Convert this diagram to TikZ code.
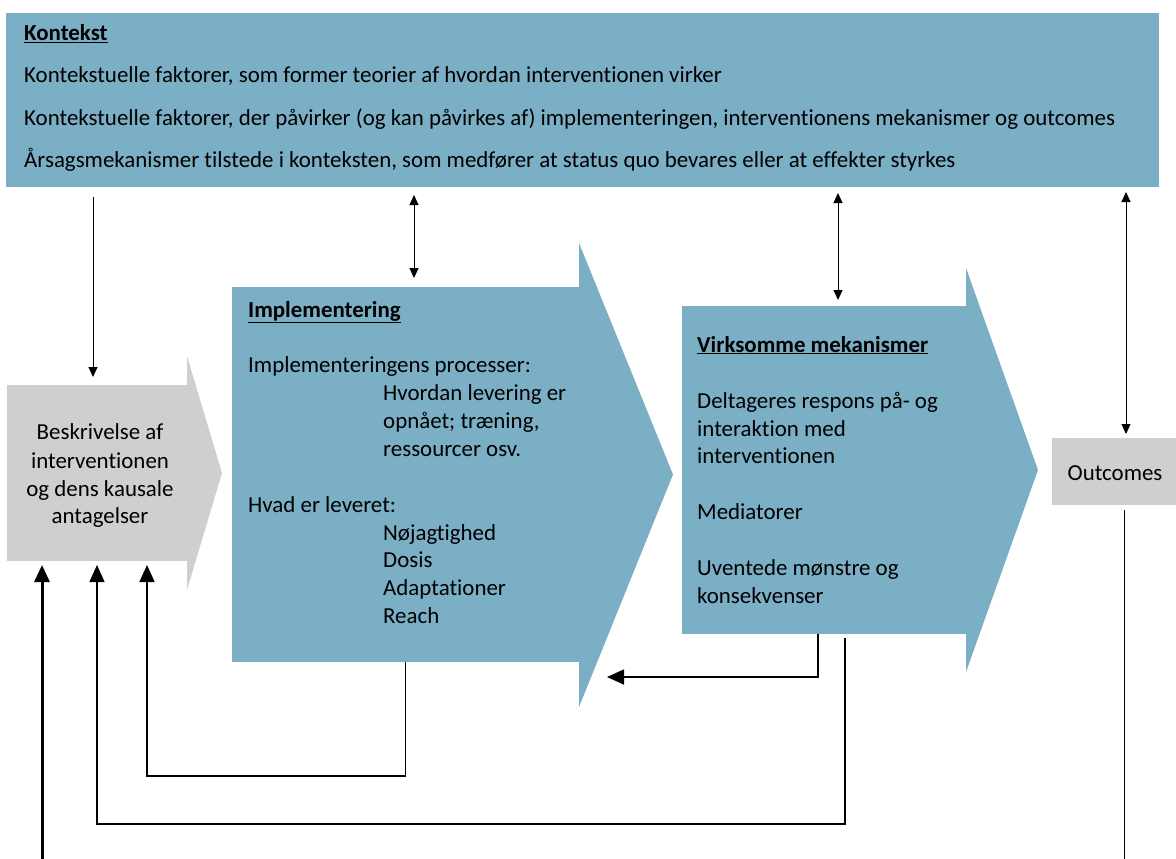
\documentclass[tikz,border=0pt]{standalone}
\usepackage{fontspec}
\setmainfont[Ligatures={NoCommon}]{Carlito}
\usetikzlibrary{arrows.meta,positioning}
\definecolor{kontekstblaa}{HTML}{7BAFC5}
\definecolor{beskgraa}{HTML}{D0CECF}

\begin{document}
\begin{tikzpicture}[x=1pt, y=-1pt,
    boks/.style={rectangle, fill=kontekstblaa, inner sep=0pt, outer sep=0pt},
    graaboks/.style={rectangle, fill=beskgraa, inner sep=0pt, outer sep=0pt},
    tekst/.style={font=\fontsize{22.9}{28}\selectfont, inner sep=0pt},
    pil/.style={-{Triangle[width=9pt,length=10pt]}, line width=1pt},
    dobbeltpil/.style={{Triangle[width=9pt,length=10pt]}-{Triangle[width=9pt,length=10pt]}, line width=1pt},
    feedback/.style={-{Triangle[width=15pt,length=17pt]}, line width=1.6pt}
]
\useasboundingbox (0,0) rectangle (1176,859);

% Kontekst
\node[boks, minimum width=1153pt, minimum height=174pt] (kontekst) at (582.5,100) {};
\node[tekst, anchor=base west] (ktitel) at (24,41) {\underline{\textbf{Kontekst}}};
\foreach \yy/\linje [count=\i] in {
    83/{Kontekstuelle faktorer, som former teorier af hvordan interventionen virker},
    125/{Kontekstuelle faktorer, der påvirker (og kan påvirkes af) implementeringen, interventionens mekanismer og outcomes},
    167/{Årsagsmekanismer tilstede i konteksten, som medfører at status quo bevares eller at effekter styrkes}} {
    \node[tekst, anchor=base west] (k\i) at (24,\yy) {\linje};
}

% Beskrivelse
\node[graaboks, minimum width=180pt, minimum height=176pt] (besk) at (97,473) {};
\fill[beskgraa] ([yshift=29pt]besk.north east) -- ([xshift=35pt]besk.east) -- ([yshift=-29pt]besk.south east) -- cycle;
\foreach \yy/\linje [count=\i] in {439/Beskrivelse af, 468/interventionen, 496/og dens kausale, 523/antagelser} {
    \node[tekst, anchor=base] (b\i) at (100,\yy) {\linje};
}

% Implementering
\node[boks, minimum width=347pt, minimum height=375pt] (impl) at (405.5,474.5) {};
\fill[kontekstblaa] ([yshift=44pt]impl.north east) -- ([xshift=94pt]impl.east) -- ([yshift=-45pt]impl.south east) -- cycle;
\node[tekst, anchor=base west] (ititel) at (248,317) {\underline{\textbf{Implementering}}};
\foreach \yy/\linje [count=\i] in {372/Implementeringens processer:, 512/Hvad er leveret:} {
    \node[tekst, anchor=base west] (iv\i) at (248,\yy) {\linje};
}
\foreach \yy/\linje [count=\i] in {400/Hvordan levering er, 428/{opnået; træning,}, 456/ressourcer osv.,
    540/Nøjagtighed, 567/Dosis, 595/Adaptationer, 623/Reach} {
    \node[tekst, anchor=base west] (ih\i) at (383,\yy) {\linje};
}

% Virksomme mekanismer
\node[boks, minimum width=284pt, minimum height=328pt] (mek) at (824,470) {};
\fill[kontekstblaa] ([yshift=38pt]mek.north east) -- ([xshift=72pt]mek.east) -- ([yshift=-38pt]mek.south east) -- cycle;
\node[tekst, anchor=base west] (mtitel) at (697,352) {\underline{\textbf{Virksomme mekanismer}}};
\foreach \yy/\linje [count=\i] in {408/Deltageres respons på- og, 436/interaktion med, 463/interventionen,
    519/Mediatorer, 575/Uventede mønstre og, 603/konsekvenser} {
    \node[tekst, anchor=base west] (m\i) at (697,\yy) {\linje};
}

% Outcomes
\node[graaboks, minimum width=124pt, minimum height=67pt] (outcomes) at (1114,471.5) {};
\node[tekst, anchor=base] (otekst) at (1115,480) {Outcomes};

% Pile fra konteksten
\draw[pil] ([xshift=87pt,yshift=-10pt]kontekst.south west) -- ([xshift=86pt,yshift=8pt]besk.north west);
\draw[dobbeltpil] ([xshift=408pt,yshift=-8pt]kontekst.south west) -- ([xshift=182pt,yshift=9pt]impl.north west);
\draw[dobbeltpil] ([xshift=832pt,yshift=-6pt]kontekst.south west) -- ([xshift=156pt,yshift=6pt]mek.north west);
\draw[dobbeltpil] ([xshift=1120pt,yshift=-5pt]kontekst.south west) -- ([xshift=74pt,yshift=4pt]outcomes.north west);

% Tilbagekobling
\coordinate (outbund) at (1124,859);
\coordinate (venstrebund) at (42,859);
\draw[line width=1pt] ([xshift=72pt,yshift=-5pt]outcomes.south west) -- (outbund);
\draw[feedback] (impl.south) -- ++(0,114) -| ([xshift=140pt,yshift=-4pt]besk.south west);
\draw[feedback] ([xshift=136pt]mek.south west) |- ([xshift=28pt,yshift=-15pt]impl.south east);
\draw[feedback, line width=1.3pt] ([xshift=163pt,yshift=-4pt]mek.south west) -- ++(0,186) -| ([xshift=90pt,yshift=-4pt]besk.south west);
\draw[feedback, line width=3pt] (venstrebund) -- ([xshift=35pt,yshift=-4pt]besk.south west);

\end{tikzpicture}
\end{document}
